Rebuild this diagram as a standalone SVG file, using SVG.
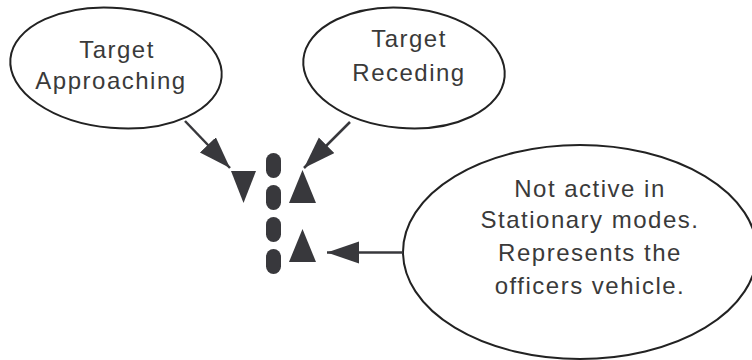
<svg xmlns="http://www.w3.org/2000/svg" width="752" height="360" viewBox="0 0 752 360">
<defs>
<style>
.node ellipse{fill:#fff;stroke:#222;stroke-width:2}
.node text{font-family:"Liberation Sans",Arial,sans-serif;font-size:24px;letter-spacing:1.5px;fill:#3a3a3a;text-anchor:middle}
.conn line{stroke:#38383c;stroke-width:2.5}
.icon{fill:#38383c}
</style>
<marker id="ah" markerUnits="userSpaceOnUse" markerWidth="34" markerHeight="24" refX="32" refY="11" orient="auto">
<path d="M0,0 L32,11 L0,22 Z" fill="#38383c"/>
</marker>
</defs>
<rect width="752" height="360" fill="#fff"/>
<g id="approaching" class="node">
<ellipse cx="116" cy="68" rx="106" ry="60" transform="rotate(5 116 68)"/>
<text x="117" y="58">Target</text>
<text x="111" y="89">Approaching</text>
</g>
<g id="receding" class="node">
<ellipse cx="404" cy="68" rx="101" ry="60" transform="rotate(5 404 68)"/>
<text x="409" y="47">Target</text>
<text x="409" y="81">Receding</text>
</g>
<g id="vehicle-note" class="node">
<ellipse cx="580" cy="252" rx="177" ry="107"/>
<text x="590" y="197">Not active in</text>
<text x="590" y="228">Stationary modes.</text>
<text x="590" y="261">Represents the</text>
<text x="590" y="294">officers vehicle.</text>
</g>
<g id="icon">
<polygon class="icon" points="231,171 256,171 243.5,203"/>
<rect class="icon" x="266" y="153" width="15" height="25" rx="7.5"/>
<rect class="icon" x="266" y="185" width="15" height="25" rx="7.5"/>
<rect class="icon" x="266" y="217" width="15" height="25" rx="7.5"/>
<rect class="icon" x="266" y="249" width="15" height="25" rx="7.5"/>
<polygon class="icon" points="289,203 316,203 302.5,170"/>
<polygon class="icon" points="289,262 316,262 302.5,229"/>
</g>
<g id="connectors" class="conn">
<line x1="185" y1="121" x2="230" y2="168" marker-end="url(#ah)"/>
<line x1="350" y1="122" x2="304" y2="168" marker-end="url(#ah)"/>
<line x1="403" y1="252.5" x2="327" y2="252.5" marker-end="url(#ah)"/>
</g>
</svg>
